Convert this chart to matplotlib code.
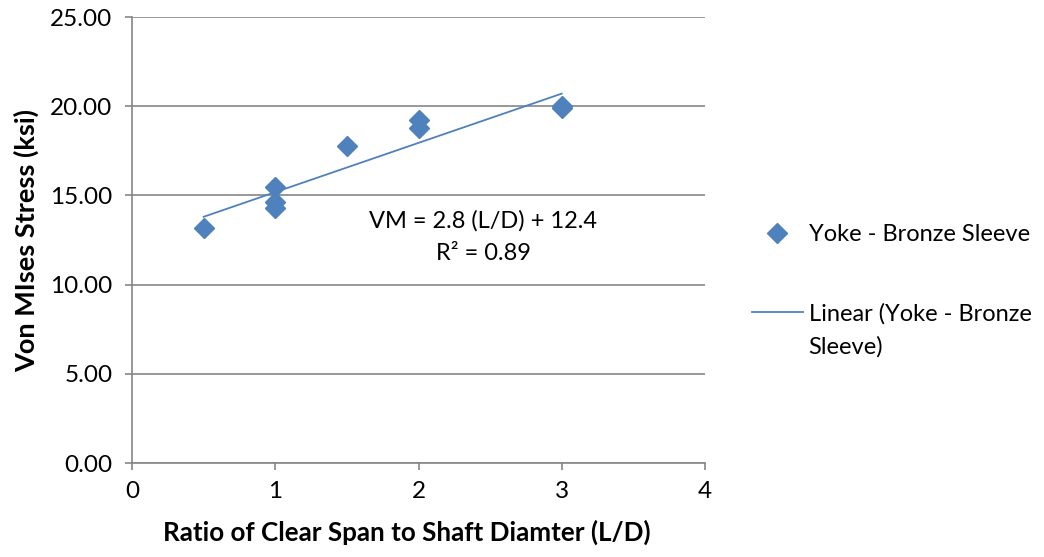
import matplotlib
matplotlib.use("Agg")
import matplotlib.pyplot as plt
import numpy as np

plt.rcParams['font.family'] = ['Lato', 'DejaVu Sans']

ld_ratio = [0.5, 1, 1, 1, 1.5, 2, 2, 3, 3]
vm_stress = [13.17, 15.45, 14.65, 14.28, 17.77, 19.23, 18.76, 20.0, 19.9]
series_name = "Yoke - Bronze Sleeve"
trend_name = "Linear (Yoke - Bronze"
trend_name_2 = "Sleeve)"
eq_text = "VM = 2.8 (L/D) + 12.4"
r2_text = "R² = 0.89"
y_ticks = [0, 5, 10, 15, 20, 25]
x_ticks = [0, 1, 2, 3, 4]

blue = '#4F81BD'
grey = '#868686'
W, H = 1044, 557

fig = plt.figure(figsize=(W/100, H/100), dpi=100)
ax = fig.add_axes([132/W, 1-463/H, (705-132)/W, (463-17)/H])

x = np.array(ld_ratio)
y = np.array(vm_stress)
slope, intercept = np.polyfit(x, y, 1)

ax.plot(x, y, linestyle='none', marker='D', ms=10.5, color=blue, label=series_name, zorder=3)
xf = np.array([x.min(), x.max()])
ax.plot(xf, slope*xf + intercept, color=blue, lw=1.3, label=trend_name, zorder=2)

ax.set_xlim(0, 4)
ax.set_ylim(0, 25)
ax.set_yticks(y_ticks)
ax.set_yticklabels([f"{v:.2f}" for v in y_ticks])
ax.set_xticks(x_ticks)
ax.set_xticklabels([str(v) for v in x_ticks])
ax.yaxis.grid(True, color=grey, lw=1.2)
ax.set_axisbelow(True)
for s in ['top', 'right']:
    ax.spines[s].set_visible(False)
for s in ['left', 'bottom']:
    ax.spines[s].set_color(grey)
    ax.spines[s].set_linewidth(1.2)
ax.tick_params(axis='both', direction='out', length=5, color=grey, width=1.2, labelsize=17.5)
ax.tick_params(axis='y', pad=9)
ax.tick_params(axis='x', pad=8)
for t in ax.get_xticklabels() + ax.get_yticklabels():
    t.set_color('black')

ax.set_xlabel("Ratio of Clear Span to Shaft Diamter (L/D)", fontsize=18.7, fontweight='bold')
ax.xaxis.set_label_coords(0.48, -0.128)
ax.set_ylabel("Von MIses Stress (ksi)", fontsize=19.5, fontweight='bold', labelpad=8)

fig.text(483/W, 1-221/H, eq_text, fontsize=17, ha='center', va='center')
fig.text(483/W, 1-253/H, r2_text, fontsize=17, ha='center', va='center')

leg = ax.legend(loc='upper left', bbox_to_anchor=(752/W, 1-224/H), bbox_transform=fig.transFigure,
                frameon=False, fontsize=17, labelspacing=2.45, handlelength=2.15, handletextpad=0.25,
                borderpad=0, borderaxespad=0)
fig.text(808/W, 1-347/H, trend_name_2, fontsize=17, ha='left', va='center')
fig.savefig("out.png", dpi=100)
